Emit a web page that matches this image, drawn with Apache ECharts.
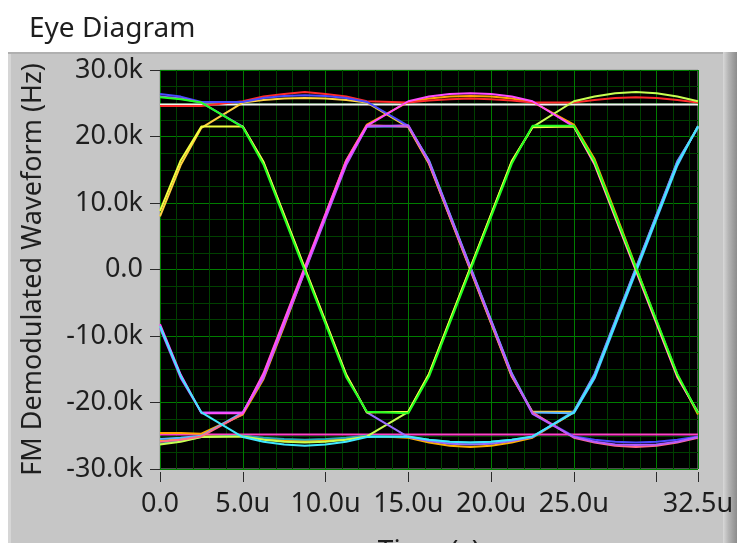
<!DOCTYPE html>
<html>
<head>
<meta charset="utf-8">
<script src="https://cdn.jsdelivr.net/npm/echarts@6/dist/echarts.min.js"></script>
<style>
html, body { margin: 0; padding: 0; background: #ffffff; }
#chart { width: 737px; height: 543px; }
</style>
</head>
<body>
<div id="chart"></div>
<script>
// Sample instants of every eye trace, in microseconds
const times = [0, 1.25, 2.5, 5, 6.25, 7.5, 8.75, 10, 11.25, 12.5, 15, 16.25, 17.5, 18.75, 20, 21.25, 22.5, 25, 26.25, 27.5, 28.75, 30, 31.25, 32.5];

// Demodulated frequency of each trace at those instants, in kHz
const traceWhite = [24.8, 24.8, 24.8, 24.8, 24.8, 24.8, 24.8, 24.8, 24.8, 24.8, 24.8, 24.8, 24.8, 24.8, 24.8, 24.8, 24.8, 24.8, 24.8, 24.8, 24.8, 24.8, 24.8, 24.8];
const traceRose = [-24.8, -24.8, -24.8, -24.8, -24.8, -24.8, -24.8, -24.8, -24.8, -24.8, -24.8, -24.8, -24.8, -24.8, -24.8, -24.8, -24.8, -24.8, -24.8, -24.8, -24.8, -24.8, -24.8, -24.8];
const traceAmber = [-25.8, -25.5, -25.1, -25.0, -25.4, -25.7, -25.8, -25.7, -25.4, -25.0, -25.3, -26.0, -26.5, -26.7, -26.5, -26.0, -25.3, -21.5, -16.0, -8.0, 0.0, 8.0, 16.0, 21.5];
const traceOrange = [-24.6, -24.6, -24.7, -21.8, -16.5, -8.5, -0.2, 8.2, 16.4, 21.8, 25.2, 25.7, 26.0, 26.1, 26.0, 25.7, 25.2, 21.8, 16.6, 8.6, 0.4, -7.8, -15.8, -21.8];
const traceGold = [8.0, 15.7, 21.3, 25.1, 25.5, 25.7, 25.8, 25.7, 25.5, 25.1, 21.4, 15.9, 7.9, -0.1, -8.1, -16.1, -21.4, -21.4, -15.9, -7.9, 0.1, 8.1, 16.1, 21.4];
const traceRed = [24.6, 24.6, 24.6, 25.3, 26.0, 26.4, 26.7, 26.4, 26.0, 25.3, 25.1, 25.4, 25.6, 25.7, 25.6, 25.4, 25.1, 25.1, 25.5, 25.8, 25.9, 25.8, 25.5, 25.1];
const traceTeal = [-26.2, -25.8, -25.2, -25.0, -25.3, -25.5, -25.6, -25.5, -25.3, -25.0, -25.2, -25.6, -25.9, -26.0, -25.9, -25.6, -25.2, -21.3, -15.7, -7.7, 0.3, 8.3, 16.3, 21.3];
const traceLime = [-26.3, -25.9, -25.2, -25.1, -25.6, -25.9, -26.0, -25.9, -25.6, -25.1, -21.4, -15.8, -7.8, 0.2, 8.2, 16.2, 21.4, 25.3, 26.0, 26.5, 26.7, 26.5, 26.0, 25.3];
const traceBlue = [26.4, 26.0, 25.2, 25.2, 25.8, 26.1, 26.2, 26.1, 25.8, 25.2, 21.6, 16.3, 8.3, 0.3, -7.7, -15.7, -21.6, -25.1, -25.6, -25.9, -26.0, -25.9, -25.6, -25.1];
const traceLightBlue = [-25.5, -25.3, -25.0, -21.5, -16.0, -8.0, 0.0, 8.0, 16.0, 21.5, 21.5, 16.4, 8.4, 0.4, -7.6, -15.6, -21.5, -21.6, -16.4, -8.4, -0.4, 7.6, 15.6, 21.6];
const tracePink = [-25.9, -25.6, -25.1, -21.7, -15.6, -7.6, 0.4, 8.4, 16.4, 21.7, 21.5, 16.0, 8.0, 0.0, -8.0, -16.0, -21.5, -25.3, -26.0, -26.5, -26.7, -26.5, -26.0, -25.3];
const traceViolet = [26.0, 25.7, 25.1, 21.5, 16.1, 8.1, 0.1, -7.9, -15.9, -21.5, -25.2, -25.8, -26.2, -26.3, -26.2, -25.8, -25.2, -21.4, -15.8, -7.8, 0.2, 8.2, 16.2, 21.4];
const tracePurple = [-8.8, -16.3, -21.5, -21.5, -16.3, -8.3, -0.3, 7.7, 15.7, 21.5, 21.7, 16.2, 8.2, 0.2, -7.8, -15.8, -21.7, -25.2, -25.9, -26.3, -26.4, -26.3, -25.9, -25.2];
const traceMagenta = [-8.2, -15.8, -21.6, -21.6, -15.8, -7.8, 0.2, 8.2, 16.2, 21.6, 25.3, 26.0, 26.4, 26.5, 26.4, 26.0, 25.3, 21.5, 15.8, 7.8, -0.2, -8.2, -16.2, -21.5];
const traceCyan = [-8.5, -16.0, -21.5, -25.2, -25.9, -26.3, -26.5, -26.3, -25.9, -25.2, -25.1, -25.6, -25.9, -26.0, -25.9, -25.6, -25.1, -21.5, -16.1, -8.1, -0.1, 7.9, 15.9, 21.5];
const traceYellow = [8.8, 16.4, 21.5, 21.5, 16.2, 8.2, 0.2, -7.8, -15.8, -21.5, -21.4, -15.7, -7.7, 0.3, 8.3, 16.3, 21.4, 21.5, 16.0, 8.0, 0.0, -8.0, -16.0, -21.5];
const traceGreen = [25.9, 25.6, 25.1, 21.4, 15.8, 7.8, -0.2, -8.2, -16.2, -21.4, -21.6, -16.1, -8.1, -0.1, 7.9, 15.9, 21.6, 21.6, 16.3, 8.3, 0.3, -7.7, -15.7, -21.6];

// Axis tick values
const timeLabelValues = [0, 5, 10, 15, 20, 25, 32.5];
const timeTickValues = [0, 5, 10, 15, 20, 25, 30, 32.5];

// Plot order and colour of each trace (later traces draw on top)
const traces = [
  { data: traceWhite, color: '#f4f4f4' },
  { data: traceRose, color: '#ff40c8' },
  { data: traceAmber, color: '#ffb000' },
  { data: traceOrange, color: '#ffa400' },
  { data: traceGold, color: '#ffd040' },
  { data: traceRed, color: '#ff2a2a' },
  { data: traceTeal, color: '#26a6b8' },
  { data: traceLime, color: '#c8ff50' },
  { data: traceBlue, color: '#4a4aff' },
  { data: traceLightBlue, color: '#5ab4ff' },
  { data: tracePink, color: '#ff6a8c' },
  { data: traceViolet, color: '#9a6cff' },
  { data: tracePurple, color: '#b45aff' },
  { data: traceMagenta, color: '#ff4cff' },
  { data: traceCyan, color: '#40e8ff' },
  { data: traceYellow, color: '#f2ff40' },
  { data: traceGreen, color: '#22ff22' }
];

const FONT = 'Noto Sans';
const TEXT = '#1e1e1e';
const GRID = { left: 160, top: 70, width: 538, height: 399 };

const chart = echarts.init(document.getElementById('chart'), null, { renderer: 'canvas' });

const series = traces.map(function (tr) {
  return {
    type: 'line',
    xAxisIndex: 1,
    yAxisIndex: 0,
    data: times.map(function (t, i) { return [t, tr.data[i]]; }),
    showSymbol: false,
    symbol: 'none',
    smooth: false,
    lineStyle: { color: tr.color, width: 2 },
    emphasis: { disabled: true },
    silent: true,
    animation: false
  };
});

chart.setOption({
  backgroundColor: '#ffffff',
  animation: false,
  title: {
    text: 'Eye Diagram',
    left: 24,
    top: 10,
    textStyle: { fontFamily: FONT, fontSize: 28, fontWeight: 'normal', color: TEXT }
  },
  graphic: [
    { type: 'rect', z: -20, shape: { x: 8, y: 52, width: 715, height: 491 }, style: { fill: '#c6c6c6' }, silent: true },
    { type: 'rect', z: -19, shape: { x: 8, y: 52, width: 715, height: 2 }, style: { fill: '#b0b0b0' }, silent: true },
    { type: 'rect', z: -19, shape: { x: 8, y: 54, width: 3, height: 489 }, style: { fill: '#d6d6d6' }, silent: true },
    {
      type: 'rect', z: -19, shape: { x: 723, y: 52, width: 14, height: 491 },
      style: { fill: new echarts.graphic.LinearGradient(0, 0, 1, 0, [
        { offset: 0, color: '#d8d8d8' }, { offset: 0.4, color: '#b4b4b4' }, { offset: 1, color: '#8c8c8c' }
      ]) },
      silent: true
    }
  ],
  grid: {
    left: GRID.left, top: GRID.top, width: GRID.width, height: GRID.height,
    show: true, backgroundColor: '#000000', borderColor: '#9a9a9a', borderWidth: 1,
    containLabel: false, outerBoundsMode: 'none'
  },
  xAxis: [
    {
      // fine time grid, one line per microsecond
      type: 'value', min: 0, max: 32.5, interval: 1, position: 'bottom',
      axisLine: { show: false }, axisTick: { show: false }, axisLabel: { show: false },
      splitLine: { show: true, lineStyle: { color: '#004000', width: 1 } }
    },
    {
      type: 'value', min: 0, max: 32.5, interval: 5, position: 'bottom', offset: 3,
      name: 'Time (s)', nameLocation: 'middle', nameGap: 66,
      nameTextStyle: { fontFamily: FONT, fontSize: 28, color: TEXT },
      axisLine: { show: false },
      axisTick: { show: true, length: 10, customValues: timeTickValues, lineStyle: { color: '#2a2a2a', width: 1 } },
      axisLabel: {
        show: true, margin: 19, customValues: timeLabelValues,
        fontFamily: FONT, fontSize: 27, color: TEXT,
        formatter: function (v) { return v === 0 ? '0.0' : v.toFixed(1) + 'u'; }
      },
      splitLine: { show: true, lineStyle: { color: '#007c00', width: 1 } }
    }
  ],
  yAxis: [
    {
      type: 'value', min: -30, max: 30, interval: 10, position: 'left', offset: 3,
      name: 'FM Demodulated Waveform (Hz)', nameLocation: 'middle', nameGap: 110,
      nameTextStyle: { fontFamily: FONT, fontSize: 27, color: TEXT },
      axisLine: { show: false },
      axisTick: { show: true, length: 10, lineStyle: { color: '#2a2a2a', width: 1 } },
      axisLabel: {
        show: true, margin: 14, fontFamily: FONT, fontSize: 27, color: TEXT,
        formatter: function (v) { return v === 0 ? '0.0' : v.toFixed(1) + 'k'; }
      },
      splitLine: { show: true, lineStyle: { color: '#007c00', width: 1 } },
      minorTick: { show: false, splitNumber: 4 },
      minorSplitLine: { show: true, lineStyle: { color: '#004000', width: 1 } }
    }
  ],
  series: series
});
</script>
</body>
</html>
